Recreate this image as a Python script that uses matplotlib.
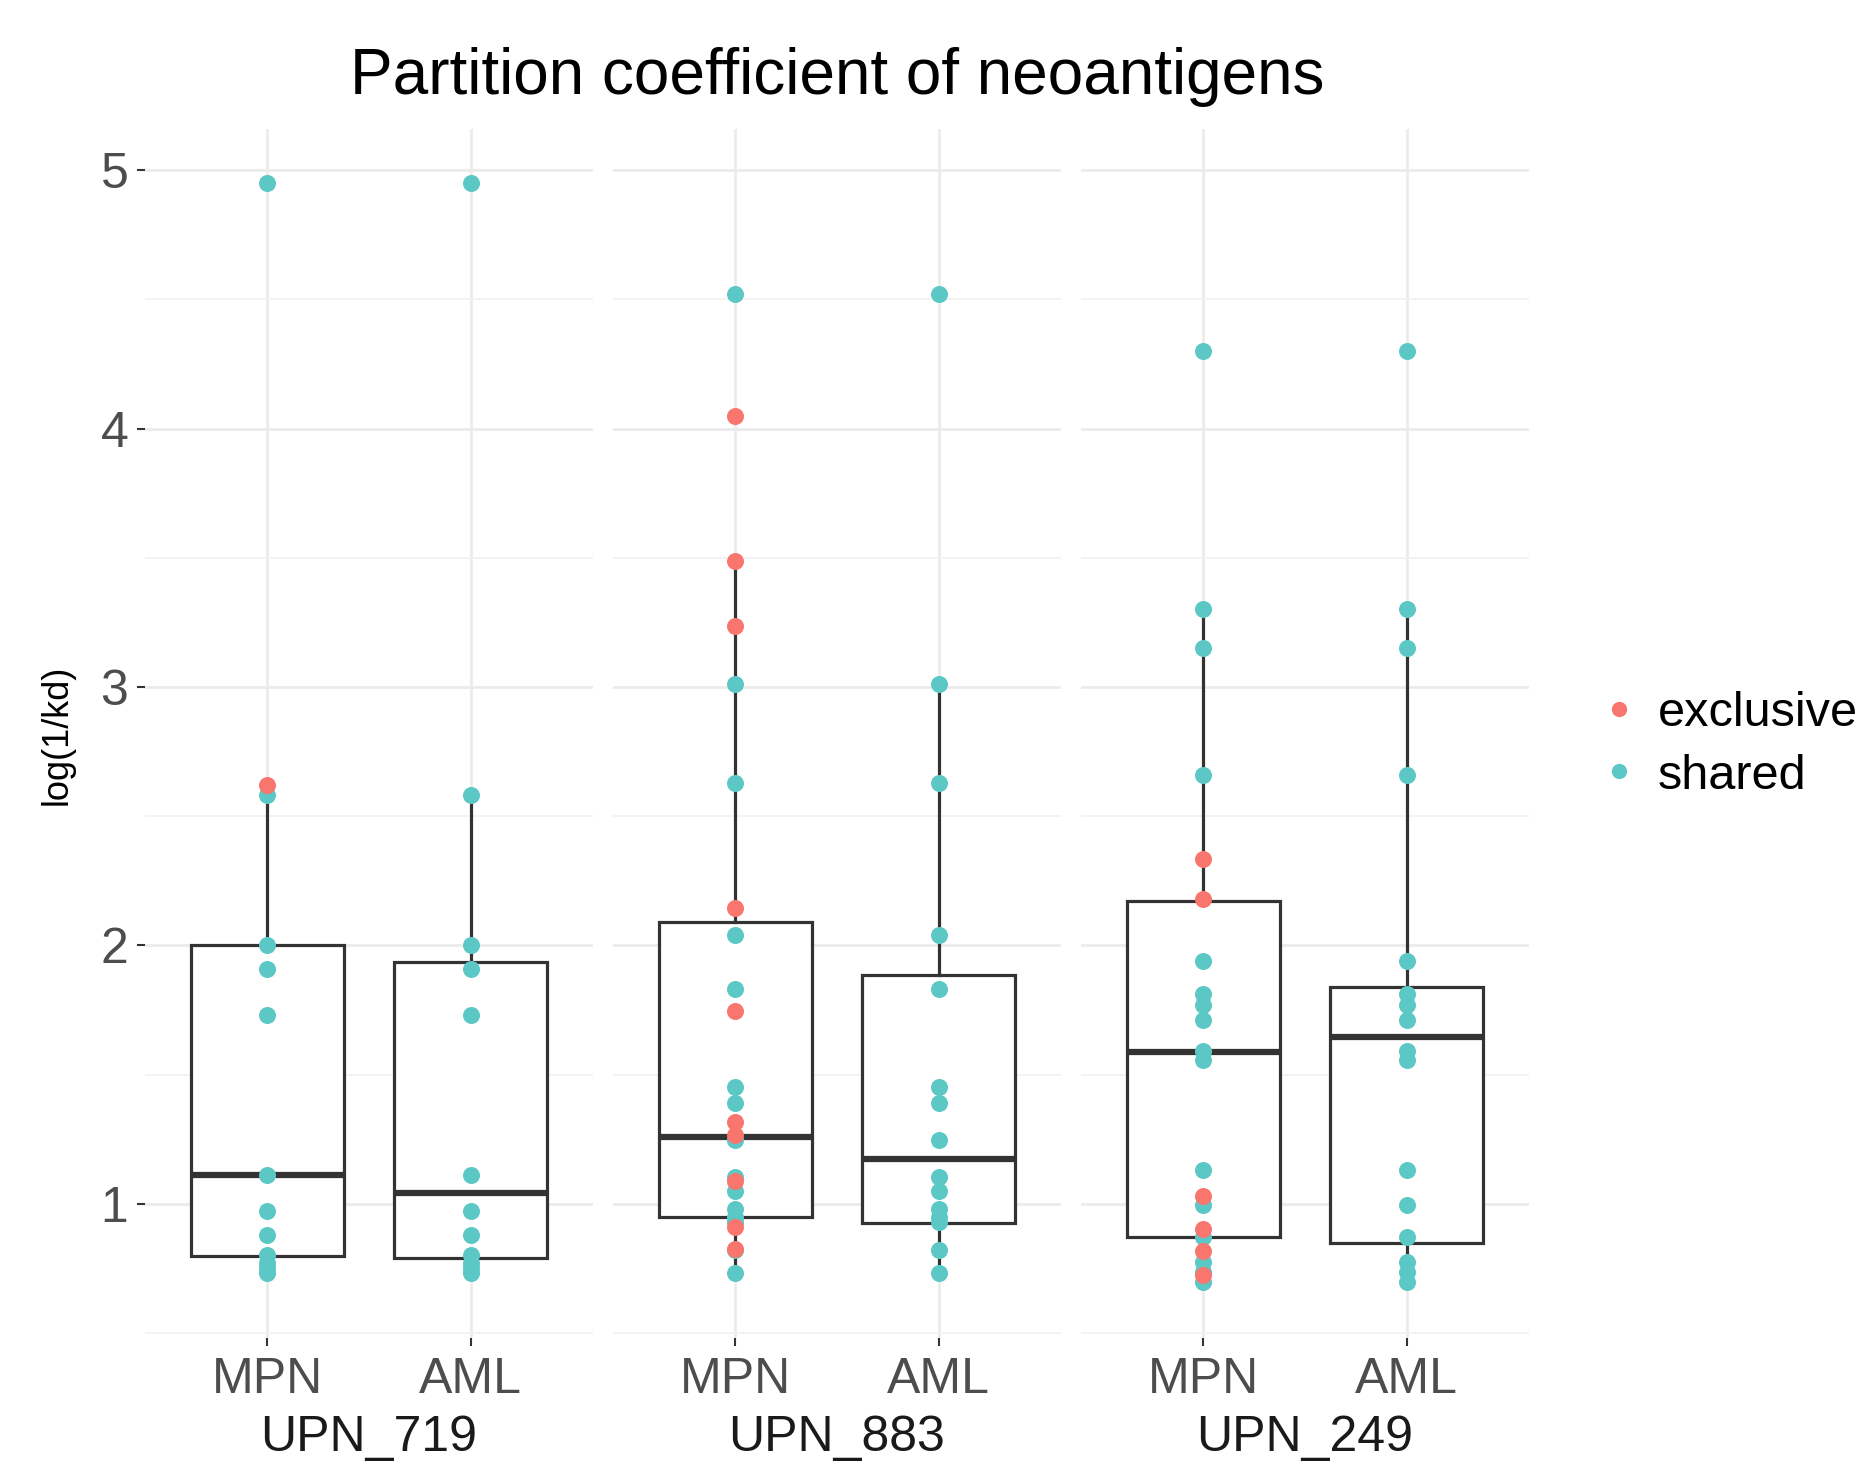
import matplotlib.pyplot as plt
from matplotlib.lines import Line2D

plt.rcParams['font.family'] = ['Liberation Sans', 'DejaVu Sans']

# facets and groups
patients = ['UPN_719', 'UPN_883', 'UPN_249']
groups = ['MPN', 'AML']

# log(1/kd) values
shared_719 = [4.95, 2.58, 2.00, 1.91, 1.73, 1.11, 0.97, 0.88, 0.80, 0.77, 0.75, 0.73]
mpn_excl_719 = [2.62]
shared_883 = [4.52, 3.01, 2.63, 2.04, 1.83, 1.45, 1.39, 1.245, 1.105, 1.05, 0.98,
              0.95, 0.93, 0.82, 0.73]
mpn_excl_883 = [4.05, 3.486, 3.238, 2.144, 1.746, 1.318, 1.267, 1.089, 0.908, 0.824]
shared_249 = [4.30, 3.30, 3.15, 2.66, 1.94, 1.81, 1.77, 1.71, 1.59, 1.555, 1.13,
              0.995, 0.87, 0.775, 0.735, 0.695]
mpn_excl_249 = [2.334, 2.179, 1.028, 0.902, 0.815, 0.725]

shared = [shared_719, shared_883, shared_249]
exclusive = [mpn_excl_719, mpn_excl_883, mpn_excl_249]

# box stats per facet: (MPN, AML) -> q1, median, q3, whisker low, whisker high
q1 = [(0.796, 0.79), (0.95, 0.925), (0.871, 0.848)]
med = [(1.11, 1.043), (1.26, 1.173), (1.589, 1.647)]
q3 = [(2.00, 1.935), (2.092, 1.886), (2.173, 1.838)]
wlo = [(0.73, 0.73), (0.731, 0.731), (0.695, 0.695)]
whi = [(2.62, 2.58), (3.486, 3.011), (3.302, 3.302)]

red = '#F8766D'
cyan = '#5CC8C6'
dark = '#333333'

W, H = 1867, 1463
fig = plt.figure(figsize=(W / 100, H / 100), dpi=100)

ax_left = [145, 613, 1081]
ax_w = 448
ax_top, ax_bot = 129, 1338

for i, name in enumerate(patients):
    ax = fig.add_axes([ax_left[i] / W, 1 - ax_bot / H, ax_w / W, (ax_bot - ax_top) / H])

    stats = []
    for j in range(2):
        stats.append({'q1': q1[i][j], 'med': med[i][j], 'q3': q3[i][j],
                      'whislo': wlo[i][j], 'whishi': whi[i][j], 'fliers': []})
    ax.bxp(stats, positions=[1, 2], widths=0.75, showfliers=False, showcaps=False,
           patch_artist=True, manage_ticks=False,
           boxprops=dict(facecolor='white', edgecolor=dark, lw=2.3),
           whiskerprops=dict(color=dark, lw=2.3),
           medianprops=dict(color=dark, lw=4.5),
           zorder=2)

    # MPN: shared + exclusive, AML: shared only
    ax.scatter([1] * len(shared[i]), shared[i], s=150, color=cyan, lw=0, zorder=3)
    ax.scatter([1] * len(exclusive[i]), exclusive[i], s=150, color=red, lw=0, zorder=4)
    ax.scatter([2] * len(shared[i]), shared[i], s=150, color=cyan, lw=0, zorder=3)

    ax.set_xlim(0.4, 2.6)
    ax.set_ylim(0.48, 5.16)
    for s in ax.spines.values():
        s.set_visible(False)

    ax.set_yticks([1, 2, 3, 4, 5])
    ax.set_yticks([0.5, 1.5, 2.5, 3.5, 4.5], minor=True)
    ax.set_xticks([1, 2])
    ax.set_xticklabels(groups)
    ax.grid(which='major', color='#EBEBEB', lw=2.0, zorder=0)
    ax.grid(which='minor', axis='y', color='#F2F2F2', lw=1.3, zorder=0)
    ax.tick_params(which='minor', length=0)
    ax.tick_params(axis='x', length=6, width=1.5, color=dark, labelsize=36,
                   labelcolor='#4D4D4D', pad=8)
    if i == 0:
        ax.tick_params(axis='y', length=6, width=1.5, color=dark, labelsize=36,
                       labelcolor='#4D4D4D', pad=6)
    else:
        ax.tick_params(axis='y', length=0, labelleft=False)
    ax.set_axisbelow(True)

    fig.text((ax_left[i] + ax_w / 2) / W, 1 - 1415 / H, name, ha='center', va='top',
             fontsize=36, color='#1A1A1A')

fig.text(837 / W, 1 - 77 / H, 'Partition coefficient of neoantigens', ha='center',
         va='center', fontsize=46, color='black')
fig.text(57 / W, 1 - 735 / H, 'log(1/kd)', rotation=90, ha='center', va='center',
         fontsize=26, color='black')

handles = [Line2D([], [], marker='o', ls='', color=red, markersize=11, mec='none'),
           Line2D([], [], marker='o', ls='', color=cyan, markersize=11, mec='none')]
fig.legend(handles, ['exclusive', 'shared'], loc='center left',
           bbox_to_anchor=(1570 / W, 1 - 745 / H), frameon=False, fontsize=35,
           handletextpad=0.3, labelspacing=0.35, handlelength=1.0, borderpad=0)

fig.savefig('out.png', dpi=100)
